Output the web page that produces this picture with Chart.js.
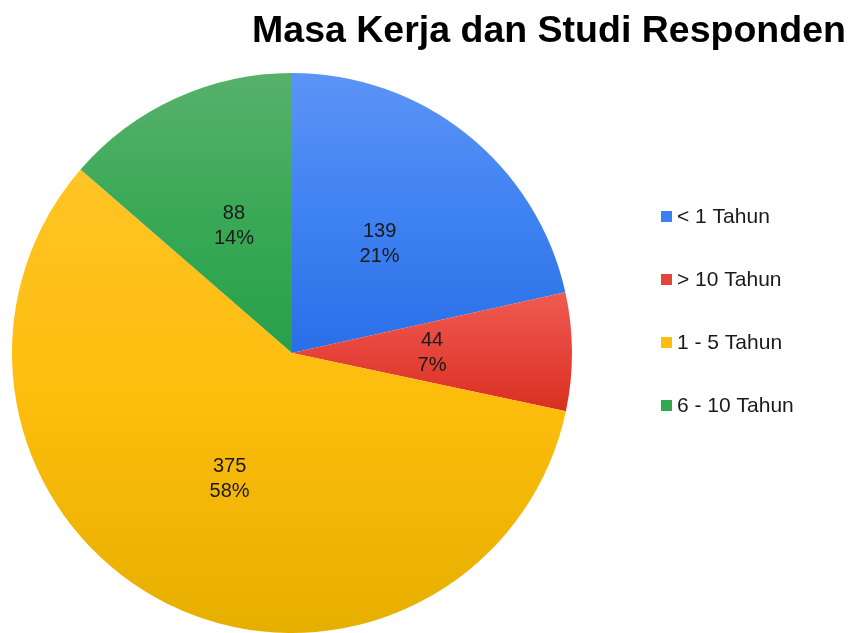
<!DOCTYPE html>
<html>
<head>
<meta charset="utf-8">
<script src="https://cdn.jsdelivr.net/npm/chart.js@4.4.1/dist/chart.umd.min.js"></script>
<style>
  html, body { margin: 0; padding: 0; background: #fff; }
  #wrap { width: 851px; height: 633px; }
</style>
</head>
<body>
<div id="wrap"><canvas id="pie"></canvas></div>
<script>
const labels = ['< 1 Tahun', '> 10 Tahun', '1 - 5 Tahun', '6 - 10 Tahun'];
const values = [139, 44, 375, 88];
const percents = ['21%', '7%', '58%', '14%'];
const lightColors = ['#5c94f6', '#ef5b50', '#ffc426', '#57b16b'];
const midColors = ['#3f82f2', '#e6443a', '#fdbd0c', '#3aa957'];
const darkColors = ['#2a6fe8', '#da2f22', '#e6af00', '#27a048'];
const legendColors = ['#3b80f0', '#e5443a', '#fdbe10', '#33a853'];
const titleText = 'Masa Kerja dan Studi Responden';

// each slice gets a vertical gradient over its own height
const sliceGradient = {
    id: 'sliceGradient',
    beforeDatasetsDraw(chart) {
        const ctx = chart.ctx;
        chart.getDatasetMeta(0).data.forEach((arc, i) => {
            const p = arc.getProps(['x', 'y', 'startAngle', 'endAngle', 'outerRadius'], true);
            const ys = [p.y, p.y + p.outerRadius * Math.sin(p.startAngle), p.y + p.outerRadius * Math.sin(p.endAngle)];
            [-Math.PI / 2, Math.PI / 2, 3 * Math.PI / 2].forEach(a => {
                if (a >= p.startAngle && a <= p.endAngle) ys.push(p.y + p.outerRadius * Math.sin(a));
            });
            const g = ctx.createLinearGradient(0, Math.min(...ys), 0, Math.max(...ys));
            g.addColorStop(0, lightColors[i]);
            g.addColorStop(0.5, midColors[i]);
            g.addColorStop(1, darkColors[i]);
            arc.options.backgroundColor = g;
        });
    }
};

const extras = {
    id: 'extras',
    afterDraw(chart) {
        const ctx = chart.ctx;
        ctx.save();
        // title
        ctx.fillStyle = '#000';
        ctx.font = 'bold 37.5px "Liberation Sans", Arial, sans-serif';
        ctx.textAlign = 'center';
        ctx.textBaseline = 'alphabetic';
        ctx.fillText(titleText, 549, 42);

        // slice labels
        ctx.font = '20px "Liberation Sans", Arial, sans-serif';
        ctx.fillStyle = '#1a1a1a';
        ctx.textBaseline = 'middle';
        chart.getDatasetMeta(0).data.forEach((arc, i) => {
            const pos = arc.tooltipPosition(true);
            ctx.fillText(String(values[i]), pos.x, pos.y - 12);
            ctx.fillText(percents[i], pos.x, pos.y + 13);
        });

        // legend
        ctx.font = '21px "Liberation Sans", Arial, sans-serif';
        ctx.textAlign = 'left';
        labels.forEach((lab, i) => {
            const y = 216 + i * 63;
            ctx.fillStyle = legendColors[i];
            ctx.fillRect(661, y - 5, 11, 11);
            ctx.fillStyle = '#1a1a1a';
            ctx.fillText(lab, 677, y + 1);
        });
        ctx.restore();
    }
};

new Chart(document.getElementById('pie'), {
    type: 'pie',
    data: {
        labels: labels,
        datasets: [{
            data: values,
            backgroundColor: legendColors,
            borderWidth: 0,
            hoverOffset: 0
        }]
    },
    options: {
        responsive: true,
        maintainAspectRatio: false,
        animation: false,
        layout: { padding: { left: 12, right: 279, top: 73, bottom: 0 } },
        plugins: {
            legend: { display: false },
            title: { display: false },
            tooltip: { enabled: false }
        }
    },
    plugins: [sliceGradient, extras]
});
</script>
</body>
</html>
